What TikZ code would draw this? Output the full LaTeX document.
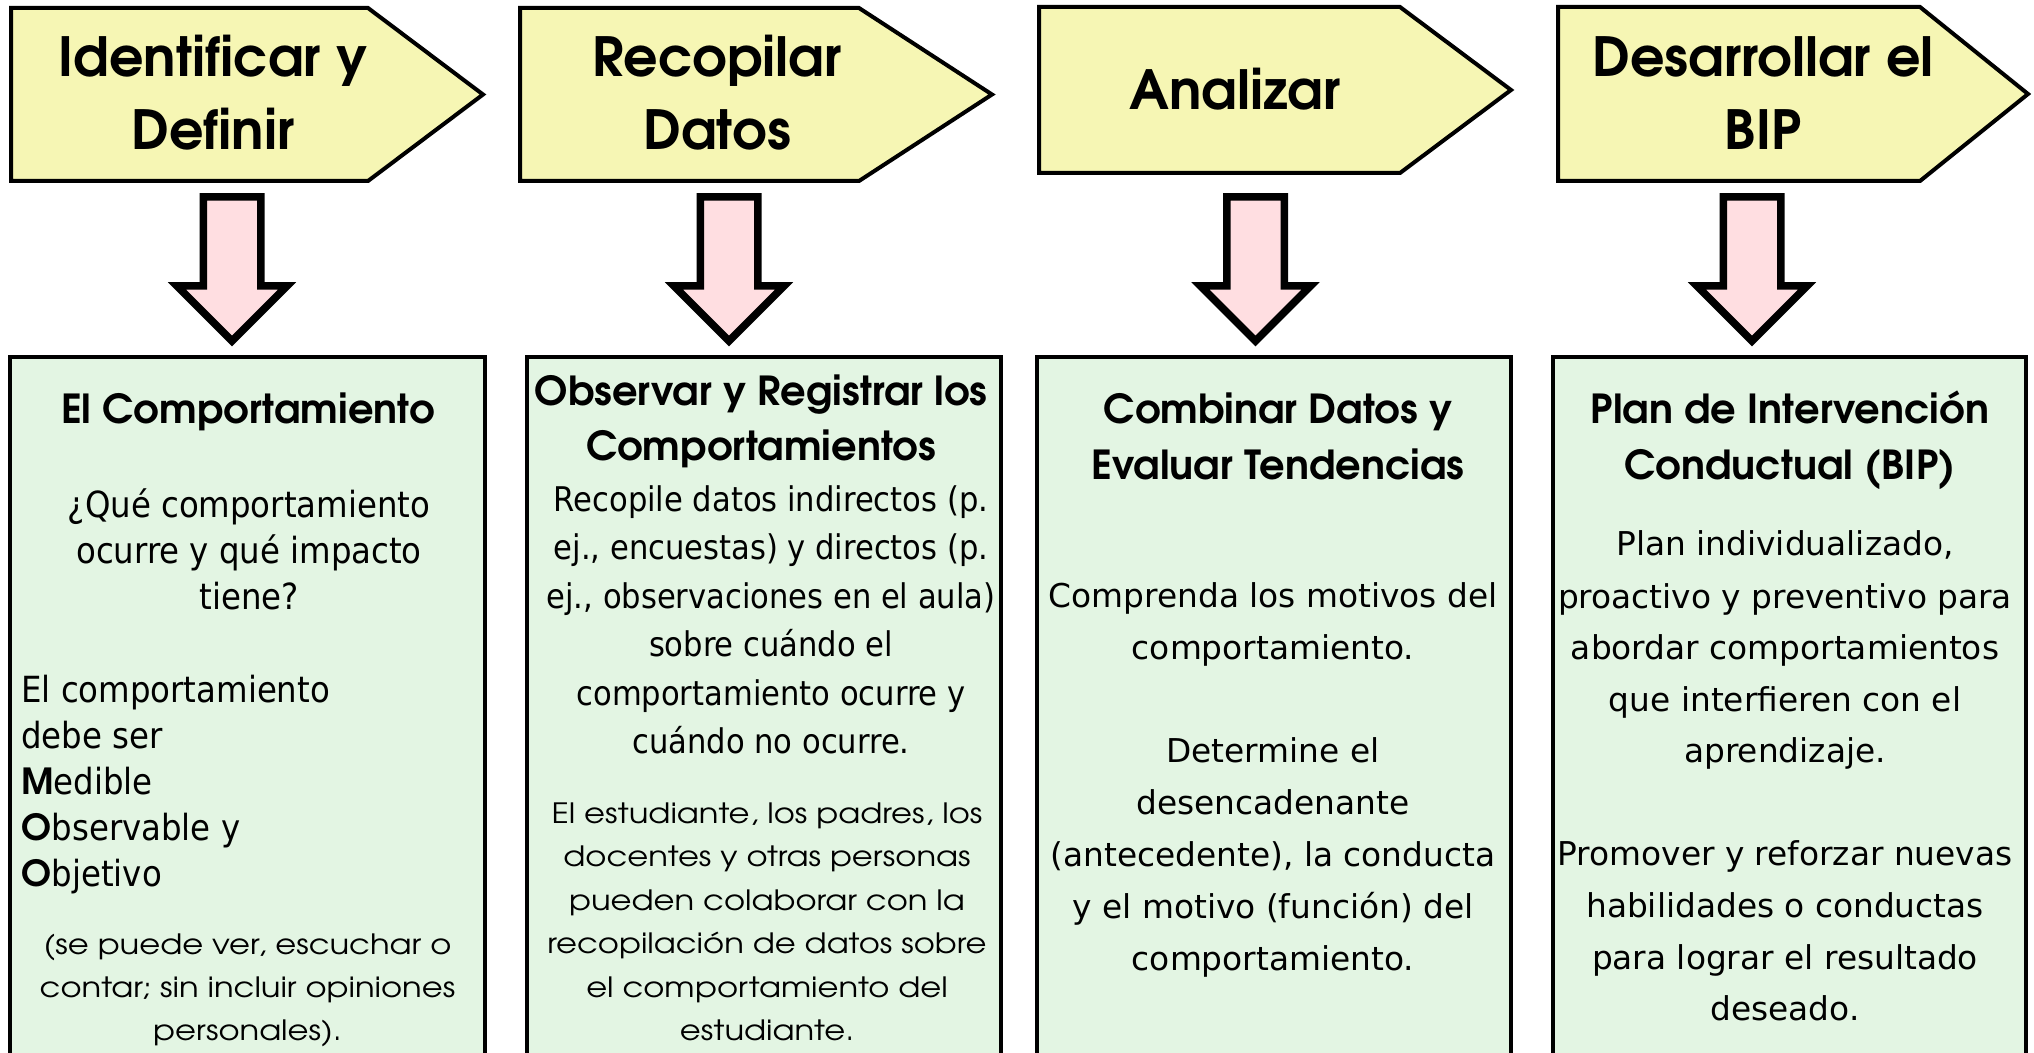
\documentclass[tikz,border=0pt]{standalone}
\usepackage{fontspec}
\newfontfamily\gothic{texgyreadventor}[Extension=.otf, UprightFont=*-regular, BoldFont=*-bold]
\newfontfamily\gothicw{texgyreadventor}[Extension=.otf, UprightFont=*-regular, BoldFont=*-bold, FakeStretch=1.15]
\newfontfamily\deja{DejaVu Sans}
\newfontfamily\dejacond{DejaVu Sans Condensed}
\definecolor{penty}{RGB}{246,246,180}
\definecolor{arrowpink}{RGB}{255,222,225}
\definecolor{boxgreen}{RGB}{227,245,227}
\begin{document}
\begin{tikzpicture}[x=0.5pt,y=-0.5pt,
  pent/.style={draw=black, line width=2pt, fill=penty, line join=miter},
  fatarrow/.style={draw=black, line width=3.75pt, fill=arrowpink, line join=miter, miter limit=10},
  boxst/.style={draw=black, line width=2.4pt, fill=boxgreen},
  ptitle/.style={font=\gothic\bfseries\fontsize{27}{30}\selectfont, anchor=base, inner sep=0},
  bhead/.style={font=\gothic\bfseries\fontsize{20}{22}\selectfont, anchor=base, inner sep=0},
  bodyA/.style={font=\dejacond\fontsize{18}{20}\selectfont, anchor=base, inner sep=0},
  bodyC/.style={font=\dejacond\fontsize{17}{20}\selectfont, anchor=base, inner sep=0},
  bodyB/.style={font=\deja\fontsize{16.4}{20}\selectfont, anchor=base, inner sep=0},
  note/.style={font=\gothicw\fontsize{14}{16}\selectfont, anchor=base, inner sep=0}]
\useasboundingbox (0,0) rectangle (2034,1053);
\fill[white] (0,0) rectangle (2034,1053);

% boxes
\draw[boxst] (10,357) rectangle (485,1070);
\draw[boxst] (527,357) rectangle (1001,1070);
\draw[boxst] (1037,357) rectangle (1511,1070);
\draw[boxst] (1553,357) rectangle (2026,1070);

% pentagons
\draw[pent] (11,8) -- (368,8) -- (483,94.5) -- (368,181) -- (11,181) -- cycle;
\draw[pent] (520,8) -- (859,8) -- (992,94.5) -- (859,181) -- (520,181) -- cycle;
\draw[pent] (1039,7) -- (1400,7) -- (1511,90) -- (1400,173) -- (1039,173) -- cycle;
\draw[pent] (1558,7) -- (1920,7) -- (2028,94) -- (1920,181) -- (1558,181) -- cycle;

% down arrows
\foreach \c/\n in {232/a1, 729/a2, 1255.5/a3, 1752/a4}{
  \draw[fatarrow] (\c-28.75,197) -- (\c+28.75,197) -- (\c+28.75,286) -- (\c+55,286)
     -- (\c,341) -- (\c-55,286) -- (\c-28.75,286) -- cycle;
}

% pentagon titles
\node[ptitle] (p1a) at (213,77) {Identificar y};
\node[ptitle] (p1b) at (213,150) {Definir};
\node[ptitle] (p2a) at (717,77) {Recopilar};
\node[ptitle] (p2b) at (717,150) {Datos};
\node[ptitle] (p3a) at (1235,110) {Analizar};
\node[ptitle] (p4a) at (1763,77) {Desarrollar el};
\node[ptitle] (p4b) at (1763,150) {BIP};

% box 1
\node[bhead] (h1) at (248,423) {El Comportamiento};
\foreach \y/\t [count=\i] in {517/{¿Qué comportamiento}, 563/{ocurre y qué impacto}, 609/{tiene?}}
  \node[bodyA, name=b1a\i] at (249,\y) {\t};
\foreach \y/\t [count=\i] in {702/{El comportamiento}, 748/{debe ser}, 794/{{\gothic\bfseries M}edible}, 840/{{\gothic\bfseries O}bservable y}, 886/{{\gothic\bfseries O}bjetivo}}
  \node[bodyA, anchor=base west, name=b1b\i] at (21,\y) {\t};
\foreach \y/\t [count=\i] in {954/{(se puede ver, escuchar o}, 997/{contar; sin incluir opiniones}, 1040/{personales).}}
  \node[note, name=b1c\i] at (247.5,\y) {\t};

% box 2
\node[bhead] (h2a) at (761,406) {Observar y Registrar los};
\node[bhead] (h2b) at (761,460) {Comportamientos};
\foreach \y/\t [count=\i] in {511/{Recopile datos indirectos (p.}, 559.5/{ej., encuestas) y directos (p.}, 608/{ej., observaciones en el aula)}, 656.5/{sobre cuándo el}, 705/{comportamiento ocurre y}, 753.5/{cuándo no ocurre.}}
  \node[bodyC, name=b2a\i] at (771,\y) {\t};
\foreach \y/\t [count=\i] in {823/{El estudiante, los padres, los}, 866/{docentes y otras personas}, 910/{pueden colaborar con la}, 953/{recopilación de datos sobre}, 997/{el comportamiento del}, 1040/{estudiante.}}
  \node[note, name=b2b\i] at (767,\y) {\t};

% box 3
\node[bhead] (h3a) at (1278,423) {Combinar Datos y};
\node[bhead] (h3b) at (1278,480) {Evaluar Tendencias};
\foreach \y/\t [count=\i] in {607/{Comprenda los motivos del}, 659/{comportamiento.}, 762/{Determine el}, 814/{desencadenante}, 866/{(antecedente), la conducta}, 918/{y el motivo (función) del}, 970/{comportamiento.}}
  \node[bodyB, name=b3a\i] at (1273,\y) {\t};

% box 4
\node[bhead] (h4a) at (1790,423) {Plan de Intervención};
\node[bhead] (h4b) at (1790,480) {Conductual (BIP)};
\foreach \y/\t [count=\i] in {555/{Plan individualizado,}, 608/{proactivo y preventivo para}, 659/{abordar comportamientos}, 711/{que interfieren con el}, 762.5/{aprendizaje.}, 865.6/{Promover y reforzar nuevas}, 917/{habilidades o conductas}, 969/{para lograr el resultado}, 1020/{deseado.}}
  \node[bodyB, name=b4a\i] at (1785,\y) {\t};
\end{tikzpicture}
\end{document}
